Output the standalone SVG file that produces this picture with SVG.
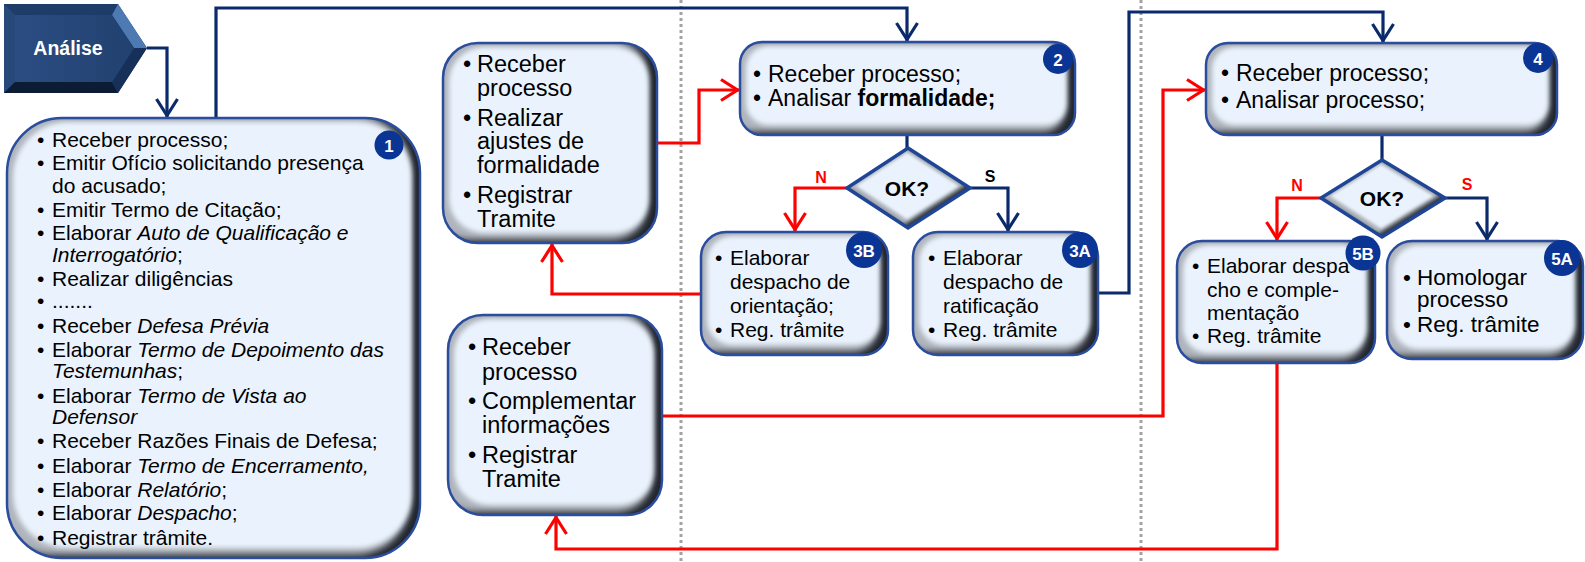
<svg xmlns="http://www.w3.org/2000/svg" width="1585" height="562" viewBox="0 0 1585 562">
  <defs>
    <style>
      .t{font-family:"Liberation Sans",Arial,sans-serif;fill:#000}
      .s21{font-size:21px}
      .s23{font-size:23px}
      .s24{font-size:23.5px}
      .i{font-style:italic}
      .b{font-weight:bold}
      .bx{fill:#000;filter:url(#bev)}
      .dx{fill:#000;filter:url(#bevS)}
      .bo{fill:none;stroke:#2a4d9e;stroke-width:2.5}
      .do{fill:none;stroke:#1f4597;stroke-width:3.5;stroke-linejoin:miter}
      .badge{fill:#0a3595}
      .bt{font-family:"Liberation Sans",Arial,sans-serif;font-weight:bold;fill:#fff;text-anchor:middle}
      .ok{font-family:"Liberation Sans",Arial,sans-serif;font-weight:bold;font-size:21px;text-anchor:middle;fill:#000}
      .lbl{font-family:"Liberation Sans",Arial,sans-serif;font-weight:bold;font-size:16px;text-anchor:middle}
      .navy{fill:none;stroke:#0b2a6b;stroke-width:3.2}
      .red{fill:none;stroke:#ff0000;stroke-width:3.2}
      .sep{fill:none;stroke:#a3a3a3;stroke-width:3;stroke-dasharray:3 3}
    </style>
    <!-- bevelled box: dark right/bottom rim, grey sides, light blue face -->
    <filter id="bev" x="-2%" y="-2%" width="104%" height="104%" color-interpolation-filters="sRGB">
      <feFlood flood-color="#22262e"/>
      <feComposite in2="SourceAlpha" operator="in" result="base"/>
      <feOffset in="SourceAlpha" dx="-10" dy="-3" result="o1"/>
      <feGaussianBlur in="o1" stdDeviation="3.5" result="b1"/>
      <feFlood flood-color="#b0b5bd"/>
      <feComposite in2="b1" operator="in" result="grey"/>
      <feMorphology in="SourceAlpha" operator="erode" radius="7" result="e"/>
      <feOffset in="e" dx="-1" dy="-3" result="eo"/>
      <feGaussianBlur in="eo" stdDeviation="2.5" result="eb"/>
      <feFlood flood-color="#eaf3fd"/>
      <feComposite in2="eb" operator="in" result="face"/>
      <feMerge result="m">
        <feMergeNode in="base"/>
        <feMergeNode in="grey"/>
        <feMergeNode in="face"/>
      </feMerge>
      <feComposite in="m" in2="SourceAlpha" operator="in"/>
    </filter>
    <!-- thinner bevel for decision diamonds -->
    <filter id="bevS" x="-2%" y="-2%" width="104%" height="104%" color-interpolation-filters="sRGB">
      <feFlood flood-color="#2a2f38"/>
      <feComposite in2="SourceAlpha" operator="in" result="base"/>
      <feOffset in="SourceAlpha" dx="-4" dy="-3" result="o1"/>
      <feGaussianBlur in="o1" stdDeviation="2" result="b1"/>
      <feFlood flood-color="#b3b8bf"/>
      <feComposite in2="b1" operator="in" result="grey"/>
      <feMorphology in="SourceAlpha" operator="erode" radius="4" result="e"/>
      <feOffset in="e" dx="-1" dy="-2" result="eo"/>
      <feGaussianBlur in="eo" stdDeviation="1.5" result="eb"/>
      <feFlood flood-color="#eaf3fd"/>
      <feComposite in2="eb" operator="in" result="face"/>
      <feMerge result="m">
        <feMergeNode in="base"/>
        <feMergeNode in="grey"/>
        <feMergeNode in="face"/>
      </feMerge>
      <feComposite in="m" in2="SourceAlpha" operator="in"/>
    </filter>
    <linearGradient id="tagFace" x1="0" y1="0" x2="1" y2="0">
      <stop offset="0" stop-color="#2b4d82"/>
      <stop offset="1" stop-color="#21416f"/>
    </linearGradient>
    <marker id="ahN" viewBox="-20 -13 23 26" refX="0" refY="0" markerWidth="23" markerHeight="26" markerUnits="userSpaceOnUse" orient="auto">
      <path d="M-18,-10.5 L-1.5,0 L-18,10.5" fill="none" stroke="#0b2a6b" stroke-width="3.2"/>
    </marker>
    <marker id="ahR" viewBox="-20 -13 23 26" refX="0" refY="0" markerWidth="23" markerHeight="26" markerUnits="userSpaceOnUse" orient="auto">
      <path d="M-18,-10.5 L-1.5,0 L-18,10.5" fill="none" stroke="#ff0000" stroke-width="3.2"/>
    </marker>
  </defs>

  <rect width="1585" height="562" fill="#fff"/>

  <!-- lane separators -->
  <g id="separators">
    <line class="sep" x1="681" y1="0" x2="681" y2="562"/>
    <line class="sep" x1="1141" y1="0" x2="1141" y2="562"/>
  </g>

  <!-- connectors -->
  <g id="connectors">
    <path class="navy" d="M147,48 H167 V117" marker-end="url(#ahN)"/>
    <path class="navy" d="M216,118 V8 H907 V41" marker-end="url(#ahN)"/>
    <path class="navy" d="M907,135 V149"/>
    <path class="navy" d="M970,188 H1008 V231" marker-end="url(#ahN)"/>
    <path class="navy" d="M1098,293 H1129 V12 H1383 V42" marker-end="url(#ahN)"/>
    <path class="navy" d="M1382,135 V161"/>
    <path class="navy" d="M1445,198 H1487 V240" marker-end="url(#ahN)"/>
    <path class="red" d="M847,188 H795 V231" marker-end="url(#ahR)"/>
    <path class="red" d="M701,294 H552 V244" marker-end="url(#ahR)"/>
    <path class="red" d="M657,143 H699 V90 H739" marker-end="url(#ahR)"/>
    <path class="red" d="M662,416 H1163 V90 H1205" marker-end="url(#ahR)"/>
    <path class="red" d="M1321,198 H1277 V240" marker-end="url(#ahR)"/>
    <path class="red" d="M1277,363 V549 H556 V516" marker-end="url(#ahR)"/>
  </g>

  <!-- phase tag -->
  <g id="analise">
    <polygon points="4,4 118,4 147,48 118,93 4,93" fill="#1c3a66"/>
    <polygon points="4,4 118,4 112,15 15,15" fill="#1e3c68"/>
    <polygon points="4,4 15,15 15,82 4,93" fill="#27497a"/>
    <polygon points="4,93 15,82 112,82 118,93" fill="#0d1c35"/>
    <polygon points="118,4 147,48 134,48 112,15" fill="#4e7ab3"/>
    <polygon points="147,48 118,93 112,82 134,48" fill="#17305a"/>
    <polygon points="15,15 112,15 134,48 112,82 15,82" fill="url(#tagFace)"/>
    <text x="68" y="55" class="bt" style="font-size:19.5px">Análise</text>
  </g>

  <!-- step 1 -->
  <g id="n1">
    <rect class="bx" x="7" y="118" width="413" height="440" rx="55"/>
    <rect class="bo" x="7" y="118" width="413" height="440" rx="55"/>
    <text class="t s21">
      <tspan x="37" y="147">•</tspan><tspan x="52" y="147">Receber processo;</tspan>
      <tspan x="37" y="170">•</tspan><tspan x="52" y="170">Emitir Ofício solicitando presença</tspan>
      <tspan x="52" y="193">do acusado;</tspan>
      <tspan x="37" y="217">•</tspan><tspan x="52" y="217">Emitir Termo de Citação;</tspan>
      <tspan x="37" y="240">•</tspan><tspan x="52" y="240">Elaborar <tspan class="i">Auto de Qualificação e</tspan></tspan>
      <tspan x="52" y="262" class="i">Interrogatório</tspan><tspan>;</tspan>
      <tspan x="37" y="286">•</tspan><tspan x="52" y="286">Realizar diligências</tspan>
      <tspan x="37" y="308">•</tspan><tspan x="52" y="308">.......</tspan>
      <tspan x="37" y="333">•</tspan><tspan x="52" y="333">Receber <tspan class="i">Defesa Prévia</tspan></tspan>
      <tspan x="37" y="357">•</tspan><tspan x="52" y="357">Elaborar <tspan class="i">Termo de Depoimento das</tspan></tspan>
      <tspan x="52" y="378" class="i">Testemunhas</tspan><tspan>;</tspan>
      <tspan x="37" y="403">•</tspan><tspan x="52" y="403">Elaborar <tspan class="i">Termo de Vista ao</tspan></tspan>
      <tspan x="52" y="424" class="i">Defensor</tspan>
      <tspan x="37" y="448">•</tspan><tspan x="52" y="448">Receber Razões Finais de Defesa;</tspan>
      <tspan x="37" y="473">•</tspan><tspan x="52" y="473">Elaborar <tspan class="i">Termo de Encerramento,</tspan></tspan>
      <tspan x="37" y="497">•</tspan><tspan x="52" y="497">Elaborar <tspan class="i">Relatório</tspan>;</tspan>
      <tspan x="37" y="520">•</tspan><tspan x="52" y="520">Elaborar <tspan class="i">Despacho</tspan>;</tspan>
      <tspan x="37" y="545">•</tspan><tspan x="52" y="545">Registrar trâmite.</tspan>
    </text>
    <circle class="badge" cx="389" cy="145" r="14.5"/>
    <text class="bt" x="389" y="151.5" style="font-size:17px">1</text>
  </g>

  <!-- formal adjustments -->
  <g id="ajustes">
    <rect class="bx" x="443" y="43" width="214" height="200" rx="35"/>
    <rect class="bo" x="443" y="43" width="214" height="200" rx="35"/>
    <text class="t s24">
      <tspan x="463" y="72">•</tspan><tspan x="477" y="72">Receber</tspan>
      <tspan x="477" y="96">processo</tspan>
      <tspan x="463" y="126">•</tspan><tspan x="477" y="126">Realizar</tspan>
      <tspan x="477" y="149">ajustes de</tspan>
      <tspan x="477" y="173">formalidade</tspan>
      <tspan x="463" y="203">•</tspan><tspan x="477" y="203">Registrar</tspan>
      <tspan x="477" y="227">Tramite</tspan>
    </text>
  </g>

  <!-- complement information -->
  <g id="complementar">
    <rect class="bx" x="448" y="315" width="214" height="200" rx="35"/>
    <rect class="bo" x="448" y="315" width="214" height="200" rx="35"/>
    <text class="t s24">
      <tspan x="468" y="355">•</tspan><tspan x="482" y="355">Receber</tspan>
      <tspan x="482" y="380">processo</tspan>
      <tspan x="468" y="409">•</tspan><tspan x="482" y="409">Complementar</tspan>
      <tspan x="482" y="433">informações</tspan>
      <tspan x="468" y="463">•</tspan><tspan x="482" y="463">Registrar</tspan>
      <tspan x="482" y="487">Tramite</tspan>
    </text>
  </g>

  <!-- step 2 -->
  <g id="n2">
    <rect class="bx" x="740" y="42" width="335" height="93" rx="22"/>
    <rect class="bo" x="740" y="42" width="335" height="93" rx="22"/>
    <text class="t s23">
      <tspan x="753" y="82">•</tspan><tspan x="768" y="82">Receber processo;</tspan>
      <tspan x="753" y="106">•</tspan><tspan x="768" y="106">Analisar <tspan class="b">formalidade;</tspan></tspan>
    </text>
    <circle class="badge" cx="1058" cy="59" r="15"/>
    <text class="bt" x="1058" y="65.5" style="font-size:17px">2</text>
  </g>

  <!-- decision after step 2 -->
  <g id="d1">
    <polygon class="dx" points="908,148 970,188 908,228 847,188"/>
    <polygon class="do" points="908,148 970,188 908,228 847,188"/>
    <text class="ok" x="907" y="196">OK?</text>
    <text class="lbl" x="821" y="183" fill="#ff0000">N</text>
    <text class="lbl" x="990" y="182" fill="#000">S</text>
  </g>

  <!-- step 3B -->
  <g id="n3b">
    <rect class="bx" x="701" y="232" width="187" height="123" rx="25"/>
    <rect class="bo" x="701" y="232" width="187" height="123" rx="25"/>
    <text class="t s21">
      <tspan x="715" y="265">•</tspan><tspan x="730" y="265">Elaborar</tspan>
      <tspan x="730" y="289">despacho de</tspan>
      <tspan x="730" y="313">orientação;</tspan>
      <tspan x="715" y="337">•</tspan><tspan x="730" y="337">Reg. trâmite</tspan>
    </text>
    <circle class="badge" cx="864" cy="250" r="18"/>
    <text class="bt" x="864" y="256.5" style="font-size:17px">3B</text>
  </g>

  <!-- step 3A -->
  <g id="n3a">
    <rect class="bx" x="913" y="232" width="185" height="123" rx="25"/>
    <rect class="bo" x="913" y="232" width="185" height="123" rx="25"/>
    <text class="t s21">
      <tspan x="928" y="265">•</tspan><tspan x="943" y="265">Elaborar</tspan>
      <tspan x="943" y="289">despacho de</tspan>
      <tspan x="943" y="313">ratificação</tspan>
      <tspan x="928" y="337">•</tspan><tspan x="943" y="337">Reg. trâmite</tspan>
    </text>
    <circle class="badge" cx="1080" cy="250" r="18"/>
    <text class="bt" x="1080" y="256.5" style="font-size:17px">3A</text>
  </g>

  <!-- step 4 -->
  <g id="n4">
    <rect class="bx" x="1206" y="43" width="351" height="92" rx="22"/>
    <rect class="bo" x="1206" y="43" width="351" height="92" rx="22"/>
    <text class="t s23">
      <tspan x="1221" y="81">•</tspan><tspan x="1236" y="81">Receber processo;</tspan>
      <tspan x="1221" y="108">•</tspan><tspan x="1236" y="108">Analisar processo;</tspan>
    </text>
    <circle class="badge" cx="1538" cy="58" r="15"/>
    <text class="bt" x="1538" y="64.5" style="font-size:17px">4</text>
  </g>

  <!-- decision after step 4 -->
  <g id="d2">
    <polygon class="dx" points="1382,160 1445,198 1382,237 1321,198"/>
    <polygon class="do" points="1382,160 1445,198 1382,237 1321,198"/>
    <text class="ok" x="1382" y="206">OK?</text>
    <text class="lbl" x="1297" y="191" fill="#ff0000">N</text>
    <text class="lbl" x="1467" y="190" fill="#ff0000">S</text>
  </g>

  <!-- step 5B -->
  <g id="n5b">
    <rect class="bx" x="1177" y="241" width="198" height="122" rx="25"/>
    <rect class="bo" x="1177" y="241" width="198" height="122" rx="25"/>
    <text class="t s21">
      <tspan x="1192" y="273">•</tspan><tspan x="1207" y="273">Elaborar despa</tspan>
      <tspan x="1207" y="297">cho e comple-</tspan>
      <tspan x="1207" y="320">mentação</tspan>
      <tspan x="1192" y="343">•</tspan><tspan x="1207" y="343">Reg. trâmite</tspan>
    </text>
    <circle class="badge" cx="1363" cy="253" r="17.5"/>
    <text class="bt" x="1363" y="259.5" style="font-size:17px">5B</text>
  </g>

  <!-- step 5A -->
  <g id="n5a">
    <rect class="bx" x="1387" y="241" width="196" height="118" rx="25"/>
    <rect class="bo" x="1387" y="241" width="196" height="118" rx="25"/>
    <text class="t" style="font-size:22.5px">
      <tspan x="1403" y="285">•</tspan><tspan x="1417" y="285">Homologar</tspan>
      <tspan x="1417" y="307">processo</tspan>
      <tspan x="1403" y="332">•</tspan><tspan x="1417" y="332">Reg. trâmite</tspan>
    </text>
    <circle class="badge" cx="1562" cy="258" r="18"/>
    <text class="bt" x="1562" y="264.5" style="font-size:17px">5A</text>
  </g>
</svg>
